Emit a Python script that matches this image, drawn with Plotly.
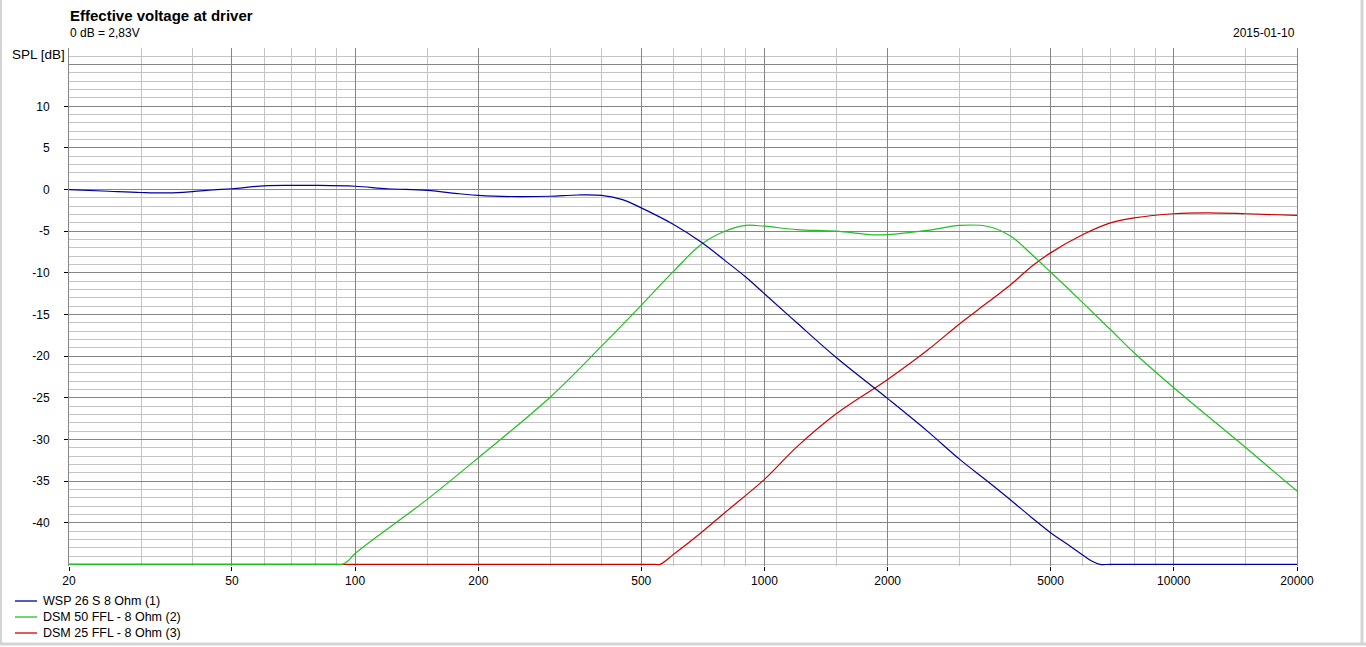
import plotly.graph_objects as go

# ---- data ----
wsp_f = [20, 25, 30, 35, 40, 45, 50, 60, 70, 80, 100, 120, 150, 180, 200, 250, 300, 350, 400, 450,
         500, 600, 700, 800, 900, 1000, 1200, 1500, 2000, 2500, 3000, 3500, 4000, 4500, 5000, 5500,
         6000, 6300, 6600, 7000, 10000, 20000]
wsp_db = [0.0, -0.2, -0.35, -0.4, -0.25, -0.05, 0.1, 0.45, 0.5, 0.5, 0.4, 0.1, -0.1, -0.5, -0.7, -0.85,
          -0.8, -0.65, -0.7, -1.2, -2.2, -4.2, -6.3, -8.5, -10.5, -12.5, -16.0, -20.2, -25.1, -29.0,
          -32.4, -35.0, -37.3, -39.4, -41.2, -42.6, -43.9, -44.6, -45.0, -45.0, -45.0, -45.0]

dsm50_f = [20, 50, 90, 93, 96, 100, 150, 200, 300, 400, 500, 600, 700, 800, 900, 1000, 1200, 1500,
           1800, 2000, 2500, 3000, 3500, 4000, 4500, 5000, 6000, 7000, 8000, 10000, 15000, 20000]
dsm50_db = [-45.0, -45.0, -45.0, -45.0, -44.6, -43.7, -37.2, -32.2, -24.9, -18.8, -13.9, -9.8, -6.6,
            -5.0, -4.3, -4.4, -4.8, -5.0, -5.4, -5.4, -4.9, -4.3, -4.4, -5.6, -7.8, -9.9, -13.6,
            -16.8, -19.6, -23.8, -31.0, -36.2]

dsm25_f = [20, 200, 500, 540, 556, 600, 700, 800, 1000, 1200, 1500, 2000, 2500, 3000, 3500, 4000,
           4500, 5000, 6000, 7000, 8000, 10000, 12000, 15000, 20000]
dsm25_db = [-45.0, -45.0, -45.0, -45.0, -45.0, -43.8, -41.2, -38.8, -34.8, -30.9, -26.9, -22.8, -19.3,
            -16.1, -13.6, -11.4, -9.2, -7.6, -5.4, -4.0, -3.4, -2.9, -2.8, -2.9, -3.1]

series_names = ["WSP 26 S 8 Ohm (1)", "DSM 50 FFL - 8 Ohm (2)", "DSM 25 FFL - 8 Ohm (3)"]
series_colors = ["#0000a0", "#22c022", "#d00000"]

x_tickvals = [20, 50, 100, 200, 500, 1000, 2000, 5000, 10000, 20000]
x_ticktext = ["20", "50", "100", "200", "500", "1000", "2000", "5000", "10000", "20000"]
x_minorvals = [30, 40, 60, 70, 80, 90, 150, 300, 400, 600, 700, 800, 900, 1500, 3000, 4000,
               6000, 7000, 8000, 9000, 15000]
y_tickvals = [10, 5, 0, -5, -10, -15, -20, -25, -30, -35, -40]
y_ticktext = ["10", "5", "0", "-5", "-10", "-15", "-20", "-25", "-30", "-35", "-40"]

title_text = "Effective voltage at driver"
subtitle_text = "0 dB = 2,83V"
date_text = "2015-01-10"
yaxis_title = "SPL [dB]"

# ---- figure ----
FONT = "Liberation Sans, Arial, sans-serif"
MAJOR = "#858585"
MINOR = "#c4c4c4"

fig = go.Figure()
# draw order: red, green, blue (blue on top)
for f, db, name, col in [(dsm25_f, dsm25_db, series_names[2], series_colors[2]),
                         (dsm50_f, dsm50_db, series_names[1], series_colors[1]),
                         (wsp_f, wsp_db, series_names[0], series_colors[0])]:
    fig.add_trace(go.Scatter(x=f, y=db, mode="lines", name=name, showlegend=False,
                             line=dict(color=col, width=1.2, shape="spline", smoothing=1.0),
                             hoverinfo="skip"))

W, H = 1366, 647
L, R, T, B = 69, 1297, 48, 566
pw, ph = R - L, B - T

def px_x(px):
    return (px - L) / pw

def px_y(py):
    return (B - py) / ph

fig.update_layout(
    width=W, height=H,
    margin=dict(l=L, r=W - R, t=T, b=H - B, autoexpand=False),
    paper_bgcolor="white", plot_bgcolor="white",
    font=dict(family=FONT, size=12, color="black"),
    showlegend=False,
    xaxis=dict(type="log", range=[1.30103, 4.30103], tickmode="array",
               tickvals=x_tickvals, ticktext=x_ticktext, showgrid=True, gridcolor=MAJOR,
               gridwidth=1, ticks="outside", ticklen=4, tickcolor="black",
               showline=False, zeroline=False, tickfont=dict(size=12),
               minor=dict(tickmode="array", tickvals=x_minorvals, showgrid=True,
                          gridcolor=MINOR, gridwidth=1, ticks="")),
    yaxis=dict(range=[-45.2, 17.0], tickmode="array", tickvals=y_tickvals, ticktext=y_ticktext,
               showgrid=True, gridcolor=MAJOR, gridwidth=1, ticks="outside", ticklen=4,
               tickcolor="black", ticklabelstandoff=12, zeroline=False,
               showline=True, linecolor=MAJOR, mirror=True, tickfont=dict(size=12),
               minor=dict(dtick=1, tick0=0, showgrid=True, gridcolor=MINOR, gridwidth=1, ticks="")),
    yaxis2=dict(overlaying="y", matches="y", tickmode="array", tickvals=[15],
                showticklabels=False, ticks="", showgrid=True, gridcolor=MAJOR,
                zeroline=False, showline=False, side="left"),
    hovermode=False,
)

# a dummy trace on yaxis2 so its grid is rendered
fig.add_trace(go.Scatter(x=[20], y=[15], yaxis="y2", mode="lines", showlegend=False,
                         hoverinfo="skip", line=dict(width=0)))

ann = [
    dict(text="<b>" + title_text + "</b>", x=px_x(68), y=px_y(16), xanchor="left", yanchor="middle",
         font=dict(size=15, family=FONT, color="black")),
    dict(text=subtitle_text, x=px_x(68), y=px_y(33), xanchor="left", yanchor="middle",
         font=dict(size=12, family=FONT, color="black")),
    dict(text=date_text, x=1, y=px_y(33), xanchor="right", yanchor="middle",
         font=dict(size=12, family=FONT, color="black")),
    dict(text=yaxis_title, x=px_x(67), y=px_y(55), xanchor="right", yanchor="middle",
         font=dict(size=13.5, family=FONT, color="black")),
]
# key (legend) below the plot
key_y = [601, 617, 633]
for name, col, yy in zip(series_names, series_colors, key_y):
    fig.add_shape(type="line", xref="paper", yref="paper", x0=px_x(15), x1=px_x(37),
                  y0=px_y(yy), y1=px_y(yy), line=dict(color=col, width=1.3))
    ann.append(dict(text=name, x=px_x(41), y=px_y(yy), xanchor="left", yanchor="middle",
                    font=dict(size=12.5, family=FONT, color="black")))
for a in ann:
    a.update(xref="paper", yref="paper", showarrow=False)
fig.update_layout(annotations=ann)

# window frame (left, right, bottom)
frame = "#d4d4d4"
fig.add_shape(type="line", xref="paper", yref="paper", x0=px_x(1), x1=px_x(1),
              y0=px_y(0), y1=px_y(645), line=dict(color=frame, width=2))
fig.add_shape(type="line", xref="paper", yref="paper", x0=px_x(1362), x1=px_x(1362),
              y0=px_y(0), y1=px_y(645), line=dict(color=frame, width=3))
fig.add_shape(type="line", xref="paper", yref="paper", x0=px_x(0), x1=px_x(1366),
              y0=px_y(644), y1=px_y(644), line=dict(color=frame, width=3))

fig.write_html("out.html", config={"displayModeBar": False},
               post_script="document.body.style.margin='0';document.body.style.overflow='hidden';")
